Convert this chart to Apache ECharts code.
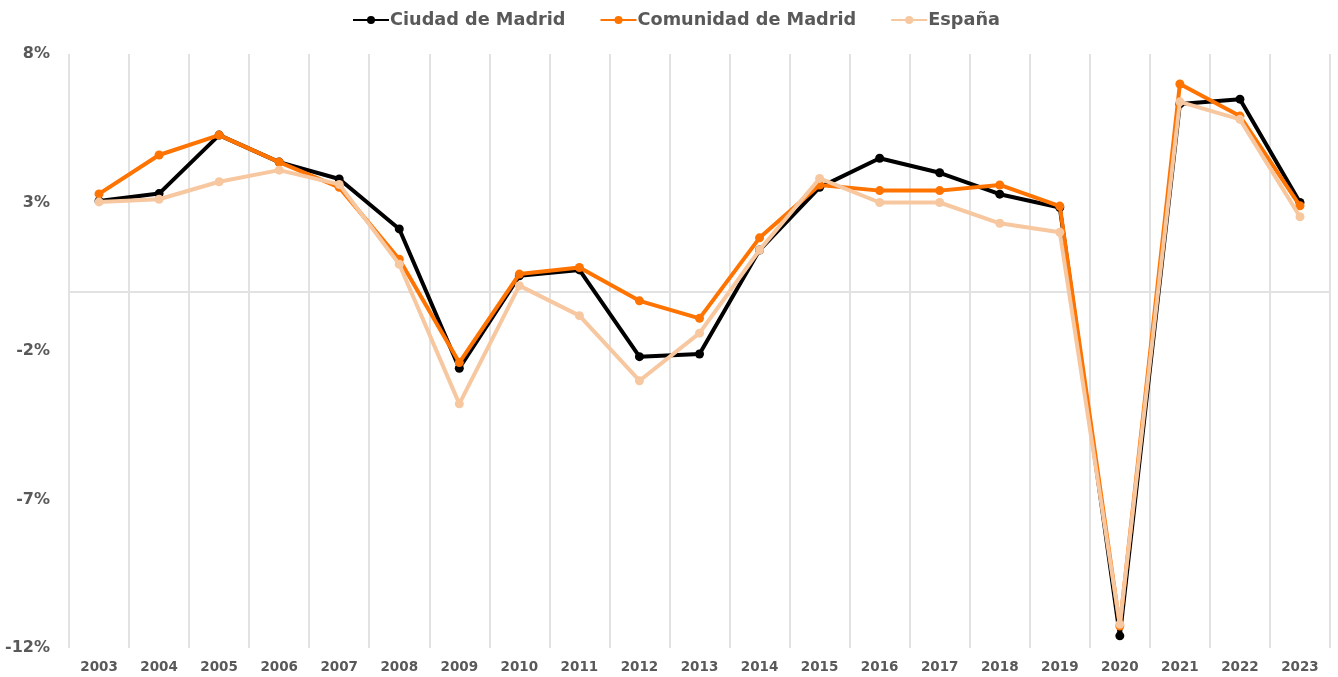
<!DOCTYPE html>
<html>
<head>
<meta charset="utf-8">
<script src="https://cdn.jsdelivr.net/npm/echarts@6/dist/echarts.min.js"></script>
<style>
  html, body { margin: 0; padding: 0; background: #fff; }
  #chart { width: 1338px; height: 677px; }
</style>
</head>
<body>
<div id="chart"></div>
<script>
// Years on the x axis
const years = ["2003", "2004", "2005", "2006", "2007", "2008", "2009", "2010", "2011", "2012",
  "2013", "2014", "2015", "2016", "2017", "2018", "2019", "2020", "2021", "2022", "2023"];

// GDP growth, %
const ciudad = [3.05, 3.3, 5.27, 4.36, 3.79, 2.11, -2.58, 0.53, 0.73, -2.19,
  -2.1, 1.4, 3.51, 4.49, 4.0, 3.28, 2.83, -11.59, 6.32, 6.48, 3.0];
const comunidad = [3.29, 4.6, 5.27, 4.36, 3.51, 1.09, -2.39, 0.59, 0.81, -0.31,
  -0.9, 1.81, 3.59, 3.4, 3.4, 3.59, 2.88, -11.26, 6.99, 5.91, 2.89];
const espana = [3.02, 3.11, 3.7, 4.09, 3.61, 0.92, -3.78, 0.2, -0.81, -3.0,
  -1.4, 1.4, 3.81, 3.0, 3.0, 2.3, 2.0, -11.2, 6.39, 5.8, 2.52];

const seriesNames = ["Ciudad de Madrid", "Comunidad de Madrid", "España"];
const seriesColors = ["#000000", "#FF7300", "#F7C7A0"];

const fontFamily = "'DejaVu Sans', sans-serif";
const textColor = "#595959";
const gridColor = "#E2E2E2";

const chart = echarts.init(document.getElementById("chart"), null, { renderer: "canvas" });

const makeSeries = (name, data, color, z) => ({
  name: name,
  type: "line",
  data: data,
  symbol: "circle",
  symbolSize: 9,
  itemStyle: { color: color },
  lineStyle: { width: 4, color: color },
  z: z,
});

chart.setOption({
  animation: false,
  grid: { left: 69, right: 8, top: 54, bottom: 29, containLabel: false },
  legend: {
    top: 6,
    left: 347,
    itemWidth: 36,
    itemHeight: 10,
    itemGap: 34,
    textStyle: { fontFamily: fontFamily, fontWeight: "bold", fontSize: 17.7, color: textColor, padding: [0, 0, 0, -4] },
    data: seriesNames,
  },
  xAxis: {
    type: "category",
    data: years,
    boundaryGap: true,
    axisLine: { show: false, onZero: false },
    axisTick: { show: false },
    axisLabel: { fontFamily: fontFamily, fontWeight: "bold", fontSize: 13.5, color: textColor, margin: 12 },
    splitLine: { show: true, lineStyle: { color: gridColor, width: 2 } },
  },
  yAxis: {
    type: "value",
    min: -12,
    max: 8,
    interval: 5,
    axisLine: { show: false },
    axisTick: { show: false },
    splitLine: { show: false },
    axisLabel: {
      fontFamily: fontFamily, fontWeight: "bold", fontSize: 16, color: textColor, margin: 19,
      formatter: "{value}%",
    },
  },
  series: [
    Object.assign(makeSeries(seriesNames[0], ciudad, seriesColors[0], 2), {
      // zero line
      markLine: {
        silent: true,
        symbol: "none",
        label: { show: false },
        lineStyle: { color: gridColor, width: 2, type: "solid" },
        data: [{ yAxis: 0 }],
        z: 1,
      },
    }),
    makeSeries(seriesNames[1], comunidad, seriesColors[1], 3),
    makeSeries(seriesNames[2], espana, seriesColors[2], 4),
  ],
});
</script>
</body>
</html>
